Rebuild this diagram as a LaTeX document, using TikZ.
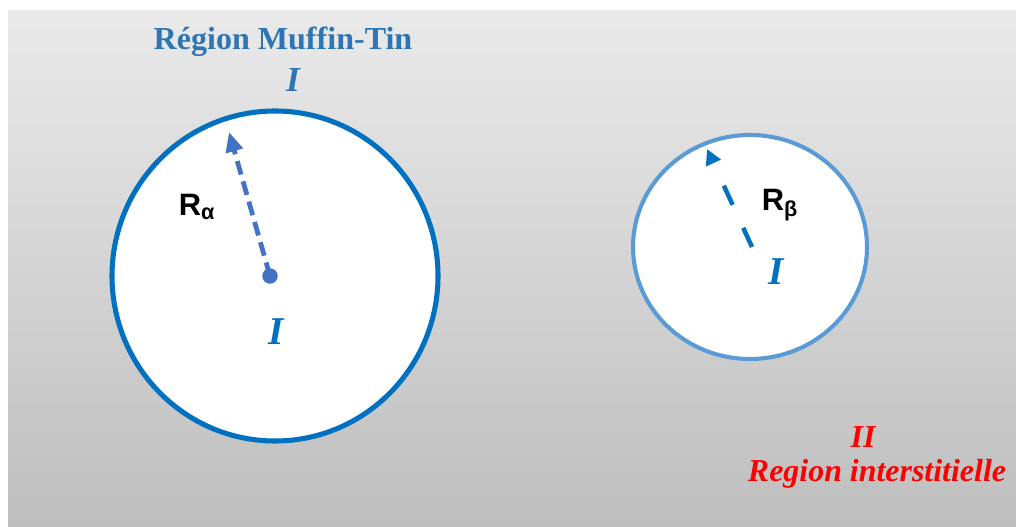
\documentclass[tikz,border=0pt]{standalone}
\usepackage{fontspec}
\setmainfont{Liberation Serif}
\newfontfamily\radiusfont{Liberation Sans}
\usetikzlibrary{arrows.meta}

\definecolor{bgtop}{HTML}{EAEAEA}
\definecolor{bgbottom}{HTML}{BEBEBE}
\definecolor{mtblue}{HTML}{0070C0}
\definecolor{titleblue}{HTML}{2E75B6}
\definecolor{arrowblue}{HTML}{4472C4}
\definecolor{smallblue}{HTML}{5B9BD5}
\definecolor{interred}{HTML}{FF0000}

\def\AlphaR{163}
\def\BetaRx{117}
\def\BetaRy{112}

\tikzset{
    romanlabel/.style={font=\bfseries\itshape\fontsize{28}{30}\selectfont, text=mtblue, inner sep=0pt},
    radiuslabel/.style={font=\radiusfont\bfseries\fontsize{22}{24}\selectfont, inner sep=0pt},
    redlabel/.style={font=\bfseries\itshape\fontsize{22.7}{25}\selectfont, text=interred, inner sep=0pt}
}

\begin{document}
\begin{tikzpicture}[x=0.025cm,y=0.025cm]

\useasboundingbox (0,0) rectangle (1016,526);

% Page background
\fill[white] (0,0) rectangle (1016,526);
\shade[top color=bgtop, bottom color=bgbottom] (8,0) rectangle (1016,515);

% =====================================================
% MUFFIN-TIN SPHERE ALPHA
% =====================================================
\fill[white] (275,250) ellipse [x radius=\AlphaR, y radius=165];
\draw[mtblue, line width=3.6pt] (275,250) ellipse [x radius=\AlphaR, y radius=165];

\node[fill=arrowblue, circle, inner sep=0pt, minimum size=11pt] (alphaC) at (270,250) {};
\coordinate (alphaEdge) at (229,394);
\draw[arrowblue, line width=3.4pt, dash pattern=on 10pt off 5pt,
      -{Triangle[length=14pt,width=12pt]}] (alphaC.center) -- (alphaEdge);

\node[radiuslabel] (Ralpha) at (197,319) {R\textsubscript{α}};
\node[romanlabel] (alphaI) at (276,194) {I};

% =====================================================
% MUFFIN-TIN SPHERE BETA
% =====================================================
\fill[white] (750,279) ellipse [x radius=\BetaRx, y radius=\BetaRy];
\draw[smallblue, line width=2.9pt] (750,279) ellipse [x radius=\BetaRx, y radius=\BetaRy];

\coordinate (betaC) at (752,279);
\coordinate (betaEdge) at (707,377);
\draw[mtblue, line width=3.2pt, dash pattern=on 15pt off 18pt,
      -{Triangle[length=11pt,width=11pt]}] (betaC) -- (betaEdge);

\node[radiuslabel] (Rbeta) at (780,321) {R\textsubscript{β}};
\node[romanlabel] (betaI) at (776,254) {I};

% =====================================================
% LABELS
% =====================================================
\node[font=\bfseries\fontsize{22.8}{25}\selectfont, text=titleblue, inner sep=0pt]
    (mtTitle) at (283,484) {Région Muffin-Tin};
\node[romanlabel, text=titleblue, font=\bfseries\itshape\fontsize{25}{27}\selectfont]
    (mtI) at (293,446) {I};

\node[redlabel] (interII) at (863,89) {II};
\node[redlabel] (interTitle) at (877,52) {Region interstitielle};

\end{tikzpicture}
\end{document}
